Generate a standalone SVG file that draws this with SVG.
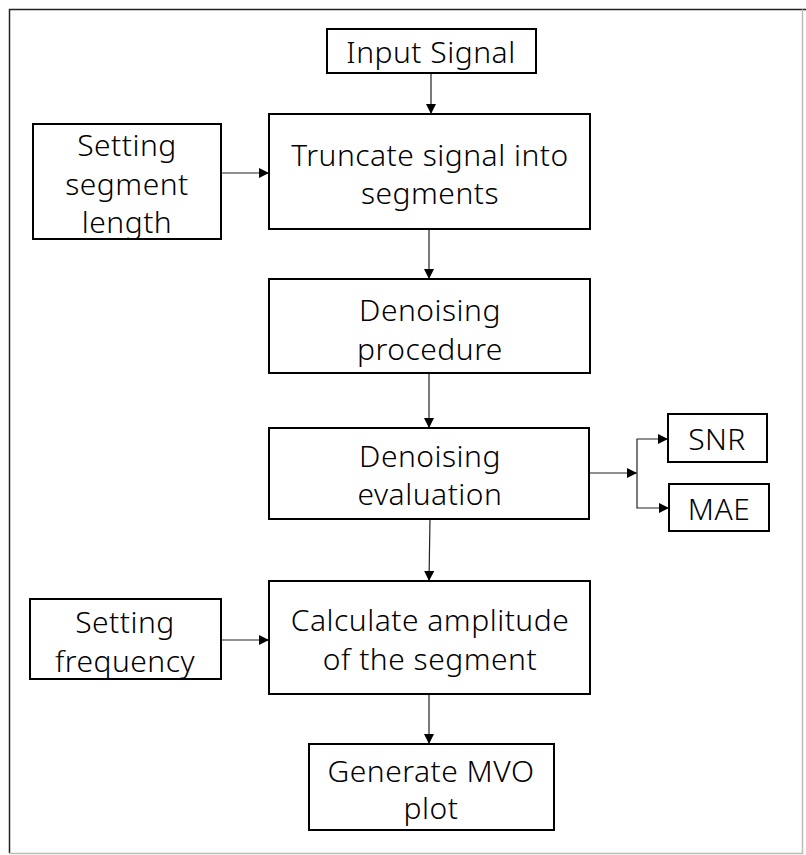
<svg xmlns="http://www.w3.org/2000/svg" width="806" height="855" viewBox="0 0 806 855">
<style>
.box{fill:#fff;stroke:#000;stroke-width:2}
.t{font-family:"Noto Sans","Liberation Sans",sans-serif;font-size:30px;font-weight:300;letter-spacing:0.5px;fill:#000;text-anchor:middle;dominant-baseline:central}
.c{fill:none;stroke:#222;stroke-width:1.2}
</style>
<defs>
<marker id="ah" viewBox="0 0 10 10" refX="10" refY="5" markerWidth="10" markerHeight="10" markerUnits="userSpaceOnUse" orient="auto">
<path d="M0,0 L10,5 L0,10 z" fill="#000"/>
</marker>
</defs>
<rect x="0" y="0" width="806" height="855" fill="#fff"/>
<g id="frame">
<path d="M9.5,853 V9.5 H806" fill="none" stroke="#222" stroke-width="1.5"/>
<path d="M802.5,9.5 V853.5 H9.5" fill="none" stroke="#bbb" stroke-width="1.5"/>
</g>
<g id="connectors">
<line class="c" x1="431" y1="73" x2="431" y2="114" marker-end="url(#ah)"/>
<line class="c" x1="221" y1="173" x2="269" y2="173" marker-end="url(#ah)"/>
<line class="c" x1="429" y1="229" x2="429" y2="279" marker-end="url(#ah)"/>
<line class="c" x1="429" y1="373" x2="429" y2="428" marker-end="url(#ah)"/>
<line class="c" x1="589" y1="473" x2="637" y2="473" marker-end="url(#ah)"/>
<path class="c" d="M637,473 V439 H668" marker-end="url(#ah)"/>
<path class="c" d="M637,473 V508 H669" marker-end="url(#ah)"/>
<line class="c" x1="430" y1="519" x2="429" y2="581" marker-end="url(#ah)"/>
<line class="c" x1="221" y1="640" x2="269" y2="640" marker-end="url(#ah)"/>
<line class="c" x1="429" y1="694" x2="429" y2="744" marker-end="url(#ah)"/>
</g>
<g id="input">
<rect class="box" x="327" y="29" width="209" height="44"/>
<text class="t" x="431" y="51">Input Signal</text>
</g>
<g id="truncate">
<rect class="box" x="269" y="114" width="321" height="115"/>
<text class="t" x="430" y="154">Truncate signal into</text>
<text class="t" x="430" y="192">segments</text>
</g>
<g id="seglen">
<rect class="box" x="33" y="124" width="188" height="115"/>
<text class="t" x="127" y="144">Setting</text>
<text class="t" x="127" y="183">segment</text>
<text class="t" x="127" y="221">length</text>
</g>
<g id="denoise">
<rect class="box" x="269" y="279" width="321" height="94"/>
<text class="t" x="430" y="309">Denoising</text>
<text class="t" x="430" y="348">procedure</text>
</g>
<g id="evaluation">
<rect class="box" x="269" y="428" width="320" height="91"/>
<text class="t" x="430" y="455">Denoising</text>
<text class="t" x="430" y="493">evaluation</text>
</g>
<g id="snr">
<rect class="box" x="668" y="414" width="99" height="48"/>
<text class="t" x="717" y="438">SNR</text>
</g>
<g id="mae">
<rect class="box" x="669" y="484" width="100" height="47"/>
<text class="t" x="719" y="508">MAE</text>
</g>
<g id="freq">
<rect class="box" x="30" y="599" width="191" height="80"/>
<text class="t" x="125" y="621">Setting</text>
<text class="t" x="125" y="660">frequency</text>
</g>
<g id="amplitude">
<rect class="box" x="269" y="581" width="321" height="113"/>
<text class="t" x="430" y="619">Calculate amplitude</text>
<text class="t" x="430" y="658">of the segment</text>
</g>
<g id="mvo">
<rect class="box" x="309" y="744" width="245" height="86"/>
<text class="t" x="431" y="770">Generate MVO</text>
<text class="t" x="431" y="807">plot</text>
</g>
</svg>
